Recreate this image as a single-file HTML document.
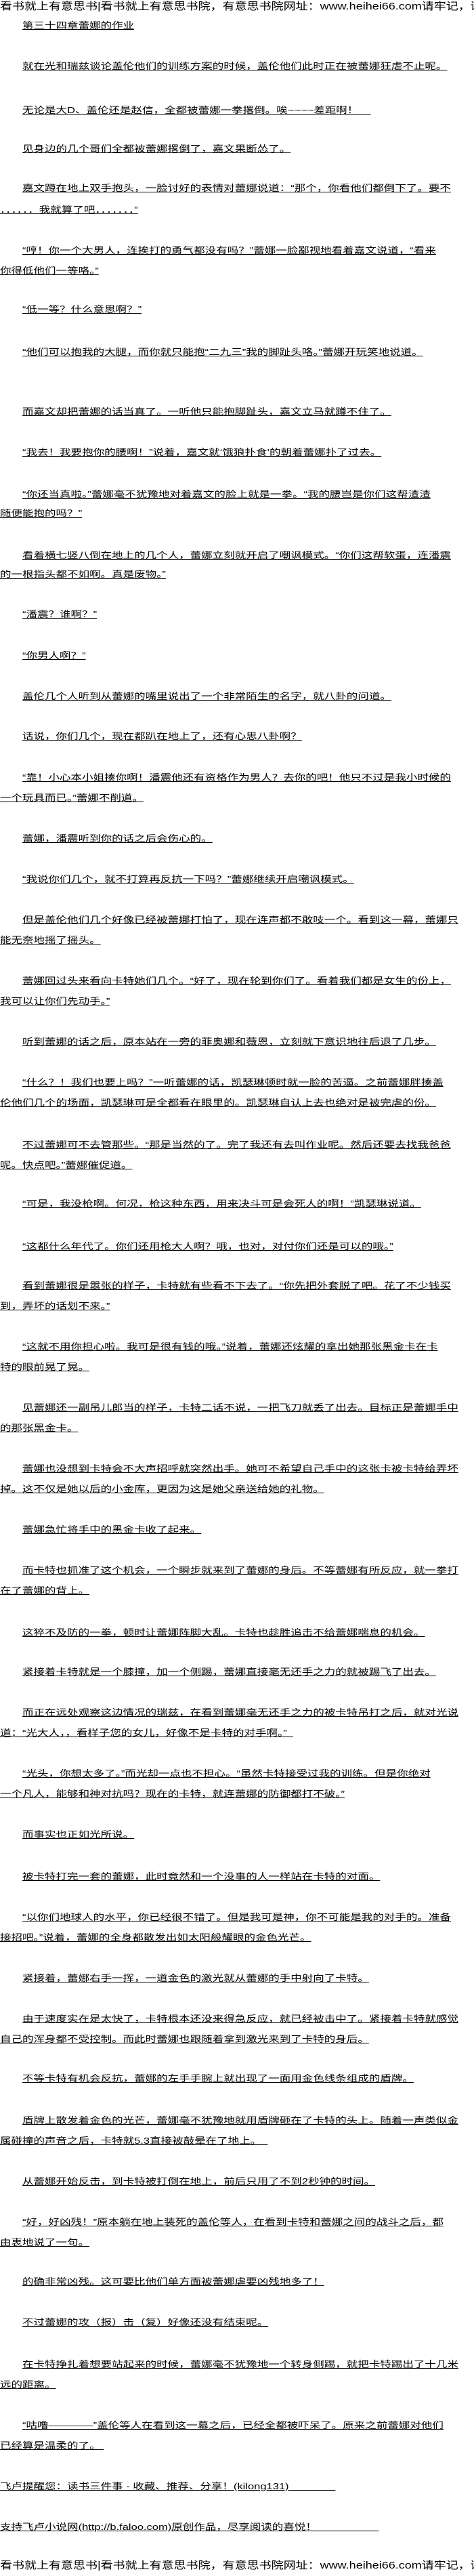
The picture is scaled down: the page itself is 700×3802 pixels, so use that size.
<!DOCTYPE html>
<html><head><meta charset="utf-8"><style>
html,body{margin:0;padding:0;background:#fff;}
body{width:700px;height:3800px;position:relative;overflow:hidden;}
.l{position:absolute;left:0;height:30px;line-height:30px;font-size:13px;white-space:pre;color:#000;
font-family:"Liberation Sans","WenQuanYi Zen Hei","Noto Sans CJK SC",sans-serif;
text-decoration:underline;transform:scale(1.27,1);transform-origin:0 0;}
.i{padding-left:2em;}
.h{font-size:15px;text-decoration:none;transform:scale(1.2,1);}
</style></head><body>
<div class="l h" style="top:-5px">看书就上有意思书|看书就上有意思书院，有意思书院网址：www.heihei66.com请牢记，谢谢</div>
<div class="l i" style="top:23px">第三十四章蕾娜的作业</div>
<div class="l i" style="top:83px">就在光和瑞兹谈论盖伦他们的训练方案的时候，盖伦他们此时正在被蕾娜狂虐不止呢。</div>
<div class="l i" style="top:148px">无论是大D、盖伦还是赵信，全都被蕾娜一拳撂倒。唉~~~~差距啊！    </div>
<div class="l i" style="top:205px">见身边的几个哥们全都被蕾娜撂倒了，嘉文果断怂了。</div>
<div class="l i" style="top:263px">嘉文蹲在地上双手抱头，一脸讨好的表情对蕾娜说道：“那个，你看他们都倒下了。要不</div>
<div class="l" style="top:295px">．．．．．．我就算了吧．．．．．．．”</div>
<div class="l i" style="top:355px">“哼！你一个大男人，连挨打的勇气都没有吗？”蕾娜一脸鄙视地看着嘉文说道，“看来</div>
<div class="l" style="top:385px">你得低他们一等咯。”</div>
<div class="l i" style="top:442px">“低一等？什么意思啊？”</div>
<div class="l i" style="top:505px">“他们可以抱我的大腿，而你就只能抱“二九三”我的脚趾头咯。”蕾娜开玩笑地说道。</div>
<div class="l i" style="top:593px">而嘉文却把蕾娜的话当真了。一听他只能抱脚趾头，嘉文立马就蹲不住了。</div>
<div class="l i" style="top:653px">“我去！我要抱你的腰啊！”说着，嘉文就‘饿狼扑食’的朝着蕾娜扑了过去。</div>
<div class="l i" style="top:715px">“你还当真啦。”蕾娜毫不犹豫地对着嘉文的脸上就是一拳。“我的腰岂是你们这帮渣渣</div>
<div class="l" style="top:743px">随便能抱的吗？”</div>
<div class="l i" style="top:805px">看着横七竖八倒在地上的几个人，蕾娜立刻就开启了嘲讽模式。“你们这帮软蛋，连潘震</div>
<div class="l" style="top:833px">的一根指头都不如啊。真是废物。”</div>
<div class="l i" style="top:892px">“潘震？谁啊？”</div>
<div class="l i" style="top:953px">“你男人啊？”</div>
<div class="l i" style="top:1013px">盖伦几个人听到从蕾娜的嘴里说出了一个非常陌生的名字，就八卦的问道。</div>
<div class="l i" style="top:1072px">话说，你们几个，现在都趴在地上了，还有心思八卦啊？</div>
<div class="l i" style="top:1133px">“靠！小心本小姐揍你啊！潘震他还有资格作为男人？去你的吧！他只不过是我小时候的</div>
<div class="l" style="top:1163px">一个玩具而已。”蕾娜不削道。</div>
<div class="l i" style="top:1223px">蕾娜，潘震听到你的话之后会伤心的。</div>
<div class="l i" style="top:1283px">“我说你们几个，就不打算再反抗一下吗？”蕾娜继续开启嘲讽模式。</div>
<div class="l i" style="top:1343px">但是盖伦他们几个好像已经被蕾娜打怕了，现在连声都不敢吱一个。看到这一幕，蕾娜只</div>
<div class="l" style="top:1373px">能无奈地摇了摇头。</div>
<div class="l i" style="top:1433px">蕾娜回过头来看向卡特她们几个。“好了，现在轮到你们了。看着我们都是女生的份上，</div>
<div class="l" style="top:1463px">我可以让你们先动手。”</div>
<div class="l i" style="top:1523px">听到蕾娜的话之后，原本站在一旁的菲奥娜和薇恩，立刻就下意识地往后退了几步。</div>
<div class="l i" style="top:1583px">“什么？！我们也要上吗？”一听蕾娜的话，凯瑟琳顿时就一脸的苦逼。之前蕾娜胖揍盖</div>
<div class="l" style="top:1613px">伦他们几个的场面，凯瑟琳可是全都看在眼里的。凯瑟琳自认上去也绝对是被完虐的份。</div>
<div class="l i" style="top:1675px">不过蕾娜可不去管那些。“那是当然的了。完了我还有去叫作业呢。然后还要去找我爸爸</div>
<div class="l" style="top:1705px">呢。快点吧。”蕾娜催促道。</div>
<div class="l i" style="top:1762px">“可是，我没枪啊。何况，枪这种东西，用来决斗可是会死人的啊！”凯瑟琳说道。</div>
<div class="l i" style="top:1825px">“这都什么年代了。你们还用枪大人啊？哦，也对，对付你们还是可以的哦。”</div>
<div class="l i" style="top:1883px">看到蕾娜很是嚣张的样子，卡特就有些看不下去了。“你先把外套脱了吧。花了不少钱买</div>
<div class="l" style="top:1913px">到，弄坏的话划不来。”</div>
<div class="l i" style="top:1973px">“这就不用你担心啦。我可是很有钱的哦。”说着，蕾娜还炫耀的拿出她那张黑金卡在卡</div>
<div class="l" style="top:2003px">特的眼前晃了晃。</div>
<div class="l i" style="top:2063px">见蕾娜还一副吊儿郎当的样子，卡特二话不说，一把飞刀就丢了出去。目标正是蕾娜手中</div>
<div class="l" style="top:2093px">的那张黑金卡。</div>
<div class="l i" style="top:2153px">蕾娜也没想到卡特会不大声招呼就突然出手。她可不希望自己手中的这张卡被卡特给弄坏</div>
<div class="l" style="top:2183px">掉。这不仅是她以后的小金库，更因为这是她父亲送给她的礼物。</div>
<div class="l i" style="top:2243px">蕾娜急忙将手中的黑金卡收了起来。</div>
<div class="l i" style="top:2303px">而卡特也抓准了这个机会，一个瞬步就来到了蕾娜的身后。不等蕾娜有所反应，就一拳打</div>
<div class="l" style="top:2333px">在了蕾娜的背上。</div>
<div class="l i" style="top:2395px">这猝不及防的一拳，顿时让蕾娜阵脚大乱。卡特也趁胜追击不给蕾娜喘息的机会。</div>
<div class="l i" style="top:2453px">紧接着卡特就是一个膝撞，加一个侧踢，蕾娜直接毫无还手之力的就被踢飞了出去。</div>
<div class="l i" style="top:2513px">而正在远处观察这边情况的瑞兹，在看到蕾娜毫无还手之力的被卡特吊打之后，就对光说</div>
<div class="l" style="top:2543px">道：“光大人，，看样子您的女儿，好像不是卡特的对手啊。”  </div>
<div class="l i" style="top:2603px">“光头，你想太多了。”而光却一点也不担心。“虽然卡特接受过我的训练。但是你绝对</div>
<div class="l" style="top:2633px">一个凡人，能够和神对抗吗？现在的卡特，就连蕾娜的防御都打不破。”</div>
<div class="l i" style="top:2693px">而事实也正如光所说。</div>
<div class="l i" style="top:2755px">被卡特打完一套的蕾娜，此时竟然和一个没事的人一样站在卡特的对面。</div>
<div class="l i" style="top:2815px">“以你们地球人的水平，你已经很不错了。但是我可是神，你不可能是我的对手的。准备</div>
<div class="l" style="top:2845px">接招吧。”说着，蕾娜的全身都散发出如太阳般耀眼的金色光芒。</div>
<div class="l i" style="top:2905px">紧接着，蕾娜右手一挥，一道金色的激光就从蕾娜的手中射向了卡特。</div>
<div class="l i" style="top:2965px">由于速度实在是太快了，卡特根本还没来得急反应，就已经被击中了。紧接着卡特就感觉</div>
<div class="l" style="top:2995px">自己的浑身都不受控制。而此时蕾娜也跟随着拿到激光来到了卡特的身后。</div>
<div class="l i" style="top:3053px">不等卡特有机会反抗，蕾娜的左手手腕上就出现了一面用金色线条组成的盾牌。</div>
<div class="l i" style="top:3115px">盾牌上散发着金色的光芒，蕾娜毫不犹豫地就用盾牌砸在了卡特的头上。随着一声类似金</div>
<div class="l" style="top:3145px">属碰撞的声音之后，卡特就5.3直接被敲晕在了地上。  </div>
<div class="l i" style="top:3205px">从蕾娜开始反击，到卡特被打倒在地上，前后只用了不到2秒钟的时间。</div>
<div class="l i" style="top:3265px">“好，好凶残！”原本躺在地上装死的盖伦等人，在看到卡特和蕾娜之间的战斗之后，都</div>
<div class="l" style="top:3295px">由衷地说了一句。</div>
<div class="l i" style="top:3353px">的确非常凶残。这可要比他们单方面被蕾娜虐要凶残地多了！</div>
<div class="l i" style="top:3413px">不过蕾娜的攻（报）击（复）好像还没有结束呢。</div>
<div class="l i" style="top:3475px">在卡特挣扎着想要站起来的时候，蕾娜毫不犹豫地一个转身侧踢，就把卡特踢出了十几米</div>
<div class="l" style="top:3505px">远的距离。</div>
<div class="l i" style="top:3565px">“咕噜————”盖伦等人在看到这一幕之后，已经全都被吓呆了。原来之前蕾娜对他们</div>
<div class="l" style="top:3595px">已经算是温柔的了。 </div>
<div class="l" style="top:3655px">飞卢提醒您：读书三件事 - 收藏、推荐、分享！(kilong131)               </div>
<div class="l" style="top:3715px">支持飞卢小说网(http://b.faloo.com)原创作品，尽享阅读的喜悦！                    </div>
<div class="l h" style="top:3772px">看书就上有意思书|看书就上有意思书院，有意思书院网址：www.heihei66.com请牢记，谢谢</div>
</body></html>
